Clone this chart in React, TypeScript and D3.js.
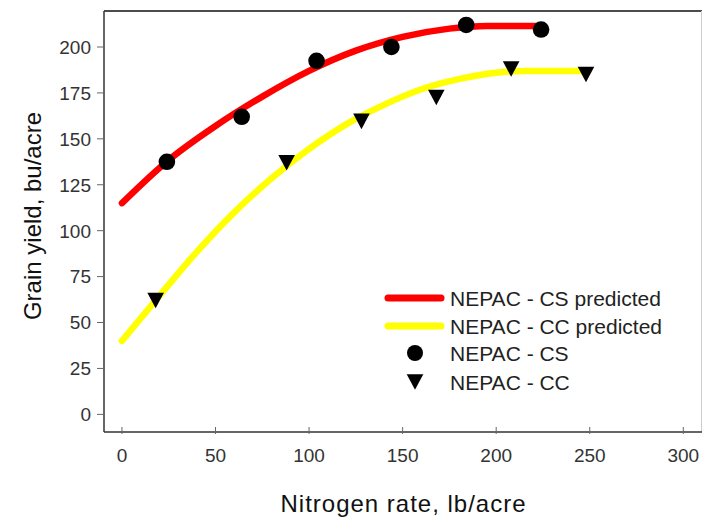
import React from "react";
import * as d3 from "d3";

// nitrogen rate (lb/acre) and grain yield (bu/acre)
const csRate = [24, 64, 104, 144, 184, 224];
const csYield = [137.5, 162, 192.5, 200, 212, 209.5];

const ccRate = [18, 88, 128, 168, 208, 248];
const ccYield = [62, 137, 159.5, 172.5, 188, 185];

// predicted curves
const csPredRate = [0, 25, 50, 75, 100, 125, 150, 175, 195, 222];
const csPredYield = [115, 138.5, 157, 173, 187, 198, 205.5, 210, 211.5, 211.5];

const ccPredRate = [0, 20, 40, 60, 80, 100, 120, 140, 160, 180, 200, 215, 248];
const ccPredYield = [40, 64.5, 88.5, 110, 128.5, 144.5, 158, 168.5, 177, 182.5, 186, 187, 187];

const xTicks = [0, 50, 100, 150, 200, 250, 300];
const yTicks = [0, 25, 50, 75, 100, 125, 150, 175, 200];

const legendLabels = [
  "NEPAC - CS predicted",
  "NEPAC - CC predicted",
  "NEPAC - CS",
  "NEPAC - CC",
];

const RED = "#ff0000";
const YELLOW = "#ffff00";
const FONT = "'Liberation Sans', Arial, sans-serif";

export default function App() {
  const width = 703;
  const height = 518;
  const margin = { top: 11, right: 1, bottom: 86, left: 104 };
  const w = width - margin.left - margin.right;
  const h = height - margin.top - margin.bottom;

  const x = d3.scaleLinear().domain([-9.6, 310]).range([0, w]);
  const y = d3.scaleLinear().domain([-9.6, 219.6]).range([h, 0]);

  const line = d3
    .line<[number, number]>()
    .x((d) => x(d[0]))
    .y((d) => y(d[1]))
    .curve(d3.curveMonotoneX);

  const csPred = csPredRate.map((r, i) => [r, csPredYield[i]] as [number, number]);
  const ccPred = ccPredRate.map((r, i) => [r, ccPredYield[i]] as [number, number]);

  // downward triangle marker
  const tri = (cx: number, cy: number) =>
    `M${cx - 8.3},${cy - 7.8}L${cx + 8.3},${cy - 7.8}L${cx},${cy + 7.8}Z`;

  const legendX = 388;
  const legendY = [298, 326, 353, 382];

  return (
    <svg
      width={width}
      height={height}
      style={{ position: "absolute", left: 0, top: 0, background: "#fff" }}
      fontFamily={FONT}
    >
      <g transform={`translate(${margin.left},${margin.top})`}>
        {/* frame */}
        <line x1={0} x2={w} y1={0} y2={0} stroke="#111" strokeWidth={1.5} />
        <line x1={w - 0.5} x2={w - 0.5} y1={0} y2={h} stroke="#ccc" strokeWidth={1} />
        <line x1={0} x2={0} y1={0} y2={h} stroke="#333" strokeWidth={1.5} />
        <line x1={0} x2={w} y1={h} y2={h} stroke="#333" strokeWidth={1.5} />

        {yTicks.map((t) => (
          <g key={"y" + t} transform={`translate(0,${y(t)})`}>
            <line x1={-7} x2={0} stroke="#666" strokeWidth={1} />
            <text x={-13} dy="0.36em" textAnchor="end" fontSize={19} fill="#333">
              {t}
            </text>
          </g>
        ))}

        {xTicks.map((t) => (
          <g key={"x" + t} transform={`translate(${x(t)},${h})`}>
            <line y1={-5} y2={2} stroke="#666" strokeWidth={1} />
            <text y={29.5} textAnchor="middle" fontSize={19} fill="#333">
              {t}
            </text>
          </g>
        ))}

        <path d={line(ccPred) || ""} fill="none" stroke={YELLOW} strokeWidth={6.5} strokeLinecap="round" />
        <path d={line(csPred) || ""} fill="none" stroke={RED} strokeWidth={6.5} strokeLinecap="round" />

        {csRate.map((r, i) => (
          <circle key={"cs" + i} cx={x(r)} cy={y(csYield[i])} r={8.3} fill="#000" />
        ))}
        {ccRate.map((r, i) => (
          <path key={"cc" + i} d={tri(x(r), y(ccYield[i]))} fill="#000" />
        ))}
      </g>

      {/* legend */}
      <line x1={legendX} x2={legendX + 53} y1={legendY[0]} y2={legendY[0]} stroke={RED} strokeWidth={7} strokeLinecap="round" />
      <line x1={legendX} x2={legendX + 53} y1={legendY[1]} y2={legendY[1]} stroke={YELLOW} strokeWidth={7} strokeLinecap="round" />
      <circle cx={415} cy={legendY[2]} r={8} fill="#000" />
      <path d={tri(415, legendY[3])} fill="#000" />
      {legendLabels.map((l, i) => (
        <text key={l} x={450} y={legendY[i]} dy="0.36em" fontSize={21} fill="#222">
          {l}
        </text>
      ))}

      {/* axis titles */}
      <text
        x={403}
        y={512}
        textAnchor="middle"
        fontSize={24}
        fill="#111"
        textLength={245}
        lengthAdjust="spacing"
      >
        Nitrogen rate, lb/acre
      </text>
      <text
        transform="translate(41,216) rotate(-90)"
        textAnchor="middle"
        fontSize={24}
        fill="#111"
      >
        Grain yield, bu/acre
      </text>
    </svg>
  );
}
